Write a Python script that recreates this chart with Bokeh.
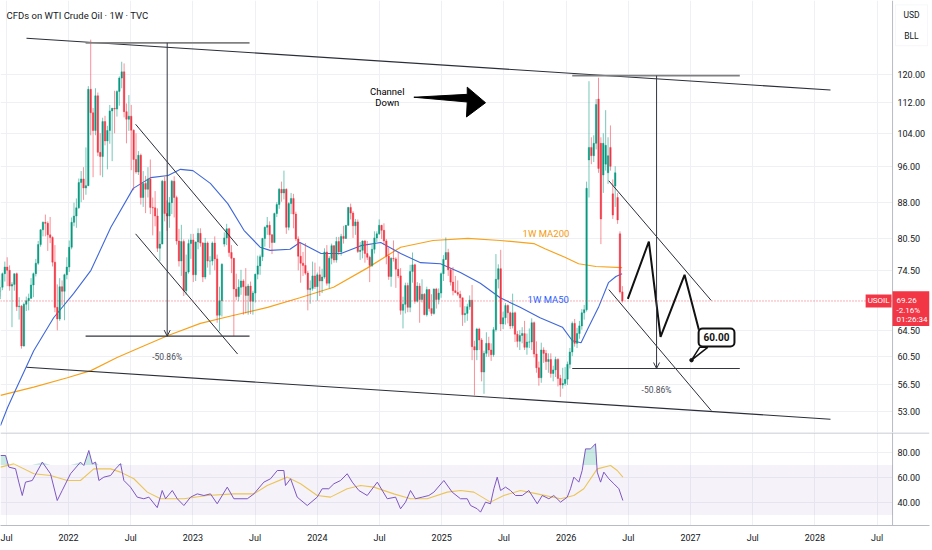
import numpy as np
import pandas as pd
from bokeh.plotting import figure
from bokeh.layouts import column
from bokeh.models import (Range1d, FixedTicker, PrintfTickFormatter, Label, Arrow,
                          OpenHead, BoxAnnotation, Span, ColumnDataSource)
from bokeh.embed import file_html
from bokeh.resources import INLINE

# ---------------- weekly candles (USOIL) ----------------
start_2021, start_2022, start_2023 = "2021-06-07", "2022-01-03", "2023-01-02"
start_2024, start_2025, start_2026 = "2024-01-01", "2025-01-06", "2026-01-05"

o21 = [69.6, 70.9, 71.6, 74.0, 75.2, 74.6, 71.8, 72.1, 74.0, 68.3, 68.4, 62.1, 68.7, 69.3, 69.7, 72.0, 74.0, 75.9, 79.4, 82.3, 83.8, 83.6, 81.3, 80.8, 76.1, 68.2, 66.3, 71.7, 70.9, 73.8]
h21 = [71.2, 72.9, 74.2, 76.2, 77.0, 75.5, 72.5, 74.0, 74.2, 69.9, 68.6, 69.0, 70.0, 70.5, 73.2, 74.2, 76.7, 80.1, 82.4, 84.0, 85.4, 84.0, 84.9, 81.0, 79.3, 72.1, 73.2, 72.8, 74.0, 77.0]
l21 = [68.8, 70.0, 71.1, 72.6, 71.8, 71.0, 65.0, 71.0, 67.6, 66.2, 61.7, 62.0, 67.6, 67.7, 69.6, 69.9, 73.5, 75.6, 79.0, 81.0, 81.0, 78.2, 79.7, 75.3, 67.4, 64.5, 66.0, 68.5, 66.1, 73.0]
c21 = [70.9, 71.6, 74.0, 75.2, 74.6, 71.8, 72.1, 74.0, 68.3, 68.4, 62.1, 68.7, 69.3, 69.7, 72.0, 74.0, 75.9, 79.4, 82.3, 83.8, 83.6, 81.3, 80.8, 76.1, 68.2, 66.3, 71.7, 70.9, 73.8, 75.2]

o22 = [75.2, 78.9, 83.8, 85.1, 86.8, 92.3, 93.1, 91.1, 91.6, 115.7, 109.3, 104.7, 113.9, 99.3, 98.3, 107.0, 102.1, 104.7, 109.8, 110.5, 110.3, 115.1, 118.9, 120.7, 109.6, 107.6, 108.4, 104.8, 97.6, 94.7, 98.6, 89.0, 92.1, 90.8, 93.1, 86.9, 86.8, 85.1, 78.7, 79.5, 92.6, 85.6, 85.1, 87.9, 92.6, 89.0, 80.1, 76.3, 80.0, 71.0, 74.3, 79.6]
h22 = [80.2, 84.8, 87.9, 88.8, 93.2, 94.9, 95.8, 100.5, 116.6, 130.5, 110.6, 116.0, 114.8, 104.0, 108.0, 108.5, 105.9, 111.4, 110.6, 115.3, 115.4, 119.4, 123.7, 123.2, 111.8, 114.1, 111.4, 105.0, 104.0, 99.6, 99.0, 94.9, 93.8, 95.8, 97.6, 89.0, 90.4, 86.7, 82.0, 92.9, 93.6, 88.4, 89.1, 92.9, 93.7, 89.4, 82.5, 83.3, 80.4, 77.5, 80.4, 81.5]
l22 = [74.3, 78.5, 83.0, 82.7, 86.6, 88.0, 88.5, 89.6, 91.5, 103.5, 93.5, 103.5, 98.4, 93.9, 93.5, 101.0, 95.3, 101.4, 97.2, 104.0, 108.3, 111.2, 116.0, 108.1, 101.5, 104.6, 95.1, 90.6, 94.3, 94.0, 87.5, 87.0, 85.7, 89.0, 85.5, 81.2, 83.0, 78.0, 76.3, 79.5, 84.0, 82.1, 82.7, 85.5, 84.8, 79.4, 75.3, 73.6, 70.1, 70.3, 74.0, 76.7]
c22 = [78.9, 83.8, 85.1, 86.8, 92.3, 93.1, 91.1, 91.6, 115.7, 109.3, 104.7, 113.9, 99.3, 98.3, 107.0, 102.1, 104.7, 109.8, 110.5, 110.3, 115.1, 118.9, 120.7, 109.6, 107.6, 108.4, 104.8, 97.6, 94.7, 98.6, 89.0, 92.1, 90.8, 93.1, 86.9, 86.8, 85.1, 78.7, 79.5, 92.6, 85.6, 85.1, 87.9, 92.6, 89.0, 80.1, 76.3, 80.0, 71.0, 74.3, 79.6, 80.3]

o23 = [80.3, 73.8, 79.9, 81.6, 79.7, 73.4, 79.7, 76.3, 76.3, 79.7, 76.7, 66.9, 69.3, 79.5, 80.7, 82.5, 77.9, 76.8, 71.3, 70.0, 71.6, 72.7, 71.7, 70.2, 71.8, 69.2, 70.6, 73.9, 75.4, 77.1, 80.6, 82.8, 83.2, 81.3, 79.8, 85.6, 87.5, 90.8, 90.0, 90.8, 82.8, 87.7, 88.8, 85.5, 80.5, 77.2, 75.9, 75.5, 74.1, 71.2, 71.4, 73.6]
h23 = [81.5, 80.0, 82.6, 82.6, 79.9, 80.7, 80.0, 77.2, 80.0, 81.0, 77.5, 71.7, 75.9, 81.8, 83.5, 82.7, 79.3, 76.9, 74.0, 73.0, 74.7, 73.0, 75.0, 72.2, 72.6, 71.0, 74.0, 77.3, 77.5, 80.7, 83.0, 84.9, 84.0, 81.5, 85.8, 88.0, 91.1, 92.5, 95.0, 91.0, 88.0, 90.0, 89.8, 86.0, 81.0, 79.7, 78.0, 79.7, 74.5, 72.8, 76.2, 76.0]
l23 = [72.5, 72.7, 78.5, 79.0, 72.5, 73.0, 75.1, 73.8, 75.5, 74.6, 65.7, 64.4, 66.7, 79.0, 79.3, 77.1, 74.1, 63.6, 69.4, 69.2, 70.3, 67.0, 67.2, 67.0, 67.1, 67.0, 69.0, 73.0, 73.8, 76.3, 79.0, 81.3, 78.7, 77.6, 79.8, 84.9, 86.6, 88.1, 88.6, 81.5, 82.2, 85.5, 82.6, 80.1, 74.6, 72.4, 73.6, 73.8, 67.7, 68.8, 71.0, 71.3]
c23 = [73.8, 79.9, 81.6, 79.7, 73.4, 79.7, 76.3, 76.3, 79.7, 76.7, 66.9, 69.3, 75.7, 80.7, 82.5, 77.9, 76.8, 71.3, 70.0, 71.6, 72.7, 71.7, 70.2, 71.8, 69.2, 70.6, 73.9, 75.4, 77.1, 80.6, 82.8, 83.2, 81.3, 79.8, 85.6, 87.5, 90.8, 90.0, 90.8, 82.8, 87.7, 88.8, 85.5, 80.5, 77.2, 75.9, 75.5, 74.1, 71.2, 71.4, 73.6, 71.7]

o24 = [71.7, 73.8, 72.7, 73.4, 78.0, 72.3, 76.8, 79.2, 76.5, 80.0, 78.0, 81.0, 80.6, 83.2, 86.9, 85.7, 83.1, 83.9, 78.1, 78.3, 80.1, 77.7, 77.0, 75.5, 78.5, 80.7, 81.5, 83.2, 82.2, 80.1, 77.2, 73.5, 76.8, 76.7, 74.8, 73.6, 67.7, 68.7, 71.9, 68.2, 74.4, 75.6, 69.2, 71.8, 69.5, 70.4, 67.0, 71.2, 68.0, 67.2, 71.3, 69.5, 70.6]
h24 = [74.2, 75.3, 74.9, 78.7, 79.3, 77.2, 79.6, 79.3, 80.9, 80.9, 81.5, 83.1, 83.2, 87.0, 87.7, 86.1, 84.5, 84.4, 79.9, 80.2, 80.3, 80.1, 77.3, 79.4, 82.0, 82.0, 84.4, 83.3, 83.6, 80.5, 78.8, 77.0, 80.2, 77.0, 78.0, 75.0, 70.0, 72.4, 72.4, 75.6, 77.9, 75.8, 72.5, 72.3, 73.0, 70.6, 71.7, 71.3, 70.4, 71.4, 71.5, 71.4, 74.2]
l24 = [69.3, 70.1, 70.6, 73.1, 71.9, 71.4, 75.7, 76.0, 76.0, 77.4, 77.3, 79.6, 80.5, 83.1, 84.4, 80.7, 81.3, 77.8, 76.5, 76.8, 76.0, 76.5, 72.5, 75.2, 77.7, 79.9, 81.3, 80.5, 79.4, 75.7, 72.9, 71.7, 76.2, 71.5, 73.2, 67.0, 64.8, 67.2, 67.4, 67.4, 72.4, 68.8, 69.0, 65.7, 69.0, 66.9, 66.7, 67.5, 66.8, 67.0, 68.0, 68.7, 69.8]
c24 = [73.8, 72.7, 73.4, 78.0, 72.3, 76.8, 79.2, 76.5, 80.0, 78.0, 81.0, 80.6, 83.2, 86.9, 85.7, 83.1, 83.9, 78.1, 78.3, 80.1, 77.7, 77.0, 75.5, 78.5, 80.7, 81.5, 83.2, 82.2, 80.1, 77.2, 73.5, 76.8, 76.7, 74.8, 73.6, 67.7, 68.7, 71.9, 68.2, 74.4, 75.6, 69.2, 71.8, 69.5, 70.4, 67.0, 71.2, 68.0, 67.2, 71.3, 69.5, 70.6, 74.0]

o25 = [74.0, 76.6, 77.9, 74.7, 72.5, 71.0, 70.7, 70.4, 69.8, 67.0, 67.2, 68.3, 69.4, 62.0, 61.5, 64.7, 63.0, 58.3, 61.0, 62.5, 61.5, 60.8, 64.6, 73.0, 74.9, 65.5, 66.5, 68.5, 67.3, 65.2, 67.3, 63.9, 62.8, 63.7, 64.0, 61.9, 62.7, 62.7, 65.7, 60.9, 58.9, 57.5, 61.5, 61.0, 59.8, 60.1, 58.1, 58.6, 60.1, 57.4, 56.5, 56.7]
h25 = [77.4, 80.8, 78.6, 75.0, 75.2, 73.6, 72.8, 71.0, 69.8, 68.4, 68.8, 70.2, 72.0, 62.9, 64.9, 64.9, 63.3, 61.4, 64.2, 63.5, 62.5, 65.0, 77.6, 75.7, 78.4, 67.5, 68.9, 68.7, 67.5, 70.5, 67.5, 64.4, 64.5, 65.0, 66.0, 64.0, 64.8, 66.4, 65.9, 62.8, 59.8, 62.6, 61.9, 61.5, 61.0, 61.0, 59.2, 60.5, 60.3, 57.9, 58.9, 59.0]
l25 = [72.7, 76.5, 73.6, 71.9, 70.2, 70.6, 70.1, 68.2, 65.2, 65.7, 66.0, 67.8, 60.0, 55.1, 60.0, 61.5, 57.0, 55.3, 60.5, 60.5, 59.9, 60.5, 64.3, 71.4, 64.4, 64.7, 65.4, 65.6, 64.7, 64.8, 62.7, 61.9, 61.5, 62.5, 61.5, 60.8, 61.8, 61.5, 60.4, 58.2, 56.4, 56.8, 59.6, 58.6, 58.2, 57.5, 57.0, 57.6, 56.3, 54.9, 56.0, 56.4]
c25 = [76.6, 77.9, 74.7, 72.5, 71.0, 70.7, 70.4, 69.8, 67.0, 67.2, 68.3, 69.4, 62.0, 61.5, 64.7, 63.0, 58.3, 61.0, 62.5, 61.5, 60.8, 64.6, 73.0, 74.9, 65.5, 66.5, 68.5, 67.3, 65.2, 67.3, 63.9, 62.8, 63.7, 64.0, 61.9, 62.7, 62.7, 65.7, 60.9, 58.9, 57.5, 61.5, 61.0, 59.8, 60.1, 58.1, 58.6, 60.1, 57.4, 56.5, 56.7, 57.3]

o26 = [57.3, 59.4, 61.2, 65.6, 62.5, 64.0, 65.2, 67.3, 67.8, 97.5, 100.5, 98.5, 101.5, 113.0, 101.5, 94.0, 96.5, 94.5, 100.5, 89.8, 91.5, 89.0, 81.5, 70.8]
h26 = [59.8, 61.8, 65.9, 66.3, 64.9, 66.0, 67.9, 68.6, 92.5, 118.0, 103.0, 103.5, 113.0, 119.0, 103.0, 104.0, 110.0, 103.0, 106.0, 93.0, 96.0, 90.0, 82.0, 71.8]
l26 = [56.5, 58.8, 60.6, 62.0, 61.8, 63.2, 64.6, 66.2, 67.5, 89.0, 96.5, 97.0, 100.0, 94.5, 79.5, 90.0, 95.0, 92.0, 95.0, 84.5, 87.0, 83.5, 70.5, 69.0]
c26 = [59.4, 61.2, 65.6, 62.5, 64.0, 65.2, 67.3, 67.8, 91.0, 100.5, 98.5, 101.5, 111.5, 95.5, 84.5, 101.5, 101.0, 98.5, 96.0, 85.3, 94.5, 84.3, 70.79, 69.26]

# ---------------- moving averages (decimal year, price) ----------------
ma50_t = [2021.453, 2021.51, 2021.56, 2021.72, 2021.88, 2022.04, 2022.18, 2022.34, 2022.52, 2022.66, 2022.80, 2022.90, 2023.00, 2023.14, 2023.28, 2023.41, 2023.54, 2023.62, 2023.78, 2023.86, 2024.03, 2024.19, 2024.35, 2024.51, 2024.67, 2024.83, 2024.99, 2025.15, 2025.31, 2025.47, 2025.63, 2025.79, 2025.97, 2026.05, 2026.12, 2026.18, 2026.26, 2026.34, 2026.40, 2026.45]
ma50_v = [51.2, 53.5, 55.3, 61.4, 66.5, 70.5, 74.6, 82.8, 91.0, 93.4, 93.9, 95.3, 95.0, 92.1, 87.7, 82.2, 78.9, 78.3, 78.5, 79.8, 77.7, 77.7, 79.2, 79.8, 77.7, 76.0, 75.8, 74.2, 72.3, 69.8, 68.2, 66.5, 65.0, 62.9, 62.6, 65.0, 68.2, 72.4, 73.5, 74.0]
ma200_t = [2021.453, 2021.72, 2021.99, 2022.18, 2022.39, 2022.58, 2022.80, 2023.06, 2023.33, 2023.60, 2023.86, 2024.13, 2024.40, 2024.67, 2024.93, 2025.21, 2025.47, 2025.74, 2025.83, 2025.99, 2026.10, 2026.24, 2026.45]
ma200_v = [55.1, 56.2, 57.5, 58.5, 60.4, 61.9, 63.7, 65.6, 66.9, 68.2, 69.8, 71.6, 75.0, 78.9, 80.2, 80.6, 80.2, 79.6, 78.6, 77.0, 75.8, 75.3, 75.1]

# ---------------- RSI pane ----------------
rsi_t = [2021.453, 2021.494, 2021.520, 2021.574, 2021.600, 2021.628, 2021.654, 2021.708, 2021.789, 2021.855, 2021.909, 2021.949, 2022.016, 2022.096, 2022.123, 2022.163, 2022.191, 2022.217, 2022.244, 2022.284, 2022.338, 2022.378, 2022.418, 2022.445, 2022.498, 2022.552, 2022.605, 2022.646, 2022.713, 2022.753, 2022.780, 2022.834, 2022.874, 2022.927, 2022.981, 2023.035, 2023.088, 2023.141, 2023.195, 2023.276, 2023.329, 2023.437, 2023.490, 2023.570, 2023.624, 2023.678, 2023.731, 2023.744, 2023.785, 2023.838, 2023.919, 2023.999, 2024.039, 2024.092, 2024.133, 2024.187, 2024.240, 2024.281, 2024.334, 2024.401, 2024.482, 2024.562, 2024.629, 2024.669, 2024.709, 2024.749, 2024.789, 2024.843, 2024.896, 2024.937, 2025.017, 2025.084, 2025.151, 2025.205, 2025.232, 2025.285, 2025.312, 2025.352, 2025.392, 2025.419, 2025.446, 2025.473, 2025.513, 2025.553, 2025.593, 2025.647, 2025.700, 2025.768, 2025.808, 2025.861, 2025.901, 2025.955, 2026.009, 2026.035, 2026.062, 2026.102, 2026.129, 2026.156, 2026.196, 2026.210, 2026.236, 2026.250, 2026.277, 2026.303, 2026.343, 2026.384, 2026.424, 2026.456]
rsi_v = [77.6, 77.6, 68.3, 67.0, 56.3, 45.6, 56.3, 57.6, 72.3, 63.0, 41.6, 49.6, 63.0, 72.3, 69.6, 81.6, 70.9, 72.3, 57.6, 60.3, 61.6, 66.9, 71.1, 57.6, 52.3, 44.3, 43.0, 44.3, 35.9, 49.6, 43.0, 49.6, 43.0, 37.6, 44.3, 46.9, 45.6, 46.9, 39.0, 52.3, 43.0, 43.0, 46.9, 56.3, 59.0, 65.6, 65.6, 53.6, 59.0, 44.3, 37.6, 44.3, 51.0, 51.0, 55.0, 57.6, 63.0, 56.3, 49.6, 45.6, 56.3, 43.0, 44.3, 35.0, 40.3, 49.6, 43.0, 44.3, 45.6, 48.3, 57.6, 48.3, 43.0, 43.0, 37.6, 35.0, 32.3, 40.3, 39.0, 51.0, 60.3, 49.6, 52.3, 49.6, 45.6, 45.6, 49.6, 39.0, 45.6, 43.0, 45.6, 40.3, 44.3, 51.0, 60.3, 56.3, 65.6, 82.9, 82.9, 84.3, 87.0, 64.3, 56.3, 64.3, 59.0, 55.0, 51.0, 41.6]
rsima_t = [2021.453, 2021.560, 2021.721, 2021.855, 2021.990, 2022.096, 2022.203, 2022.338, 2022.418, 2022.525, 2022.633, 2022.740, 2022.927, 2023.115, 2023.329, 2023.490, 2023.597, 2023.758, 2023.865, 2023.999, 2024.106, 2024.240, 2024.347, 2024.454, 2024.615, 2024.749, 2024.883, 2025.044, 2025.151, 2025.258, 2025.392, 2025.499, 2025.633, 2025.768, 2025.955, 2026.062, 2026.142, 2026.250, 2026.357, 2026.411, 2026.456]
rsima_v = [68.3, 70.9, 63.0, 61.6, 57.6, 57.6, 66.9, 66.9, 64.3, 59.0, 48.3, 43.0, 43.0, 45.6, 46.9, 46.9, 53.6, 60.3, 55.0, 45.6, 44.3, 51.0, 53.6, 52.3, 46.9, 43.0, 43.0, 48.3, 49.6, 48.3, 40.3, 45.6, 49.6, 46.9, 43.0, 45.6, 51.0, 66.9, 69.6, 65.6, 60.3]

# ---------------- axes ----------------
price_ticks = [53, 56.5, 60.5, 64.5, 74.5, 80.5, 88, 96, 104, 112, 120]
rsi_ticks = [40, 60, 80]
time_ticks = [2021.5, 2022, 2022.5, 2023, 2023.5, 2024, 2024.5, 2025, 2025.5, 2026, 2026.5, 2027, 2027.5, 2028, 2028.5]
time_labels = ["Jul", "2022", "Jul", "2023", "Jul", "2024", "Jul", "2025", "Jul", "2026", "Jul", "2027", "Jul", "2028", "Jul"]
last_price = 69.26
price_tag_lines = ["69.26", "-2.16%", "01:26:34"]
price_tag_levels = [69.26, 67.7, 66.2]          # price level of each tag line
price_tag_box = (70.9, 65.2)                   # top / bottom of the red tag
unit_labels = ["USD", "BLL"]
unit_levels = [138.4, 131.8]

# time span of the chart, where the price scale column starts, and the frame end
t_first, t_scale, t_last = 2021.453, 2028.624, 2028.921

# ---------------- drawings (decimal year, price) ----------------
chan_top_t, chan_top_p = [2021.662, 2028.125], [130.96, 115.5]
chan_bot_t, chan_bot_p = [2021.662, 2028.125], [58.98, 52.0]
lflag_top_t, lflag_top_p = [2022.539, 2023.359], [106.3, 79.2]
lflag_bot_t, lflag_bot_p = [2022.539, 2023.359], [81.5, 60.9]
rflag_top_t, rflag_top_p = [2026.343, 2027.166], [92.7, 69.35]
rflag_bot_t, rflag_bot_p = [2026.343, 2027.166], [71.2, 53.1]
lmeas_t = [2022.137, 2022.793, 2023.455]      # left, mid, right
lmeas_p = [129.5, 63.6, 60.4]                 # top, bottom, label
rmeas_t = [2026.049, 2026.727, 2027.396]
rmeas_p = [119.6, 58.8, 55.8]
zigzag_t = [2026.496, 2026.665, 2026.759, 2026.952, 2027.067]
zigzag_p = [69.6, 80.0, 63.5, 73.8, 64.6]
target_box = (2027.209, 63.4)
target_tip = (2027.008, 60.0)
tail_t, tail_p = [2027.073, 2027.008, 2027.138], [61.9, 60.0, 61.9]
big_arrow_t = [2024.776, 2025.205, 2025.205, 2025.352, 2025.199, 2025.205]
big_arrow_p = [113.5, 114.3, 116.3, 112.0, 108.2, 112.2]

UP, DOWN = "#089981", "#f23645"
INK = "#131722"
GRID = "#eef0f4"
AXLINE = "#b8bbc3"
FONT = "Roboto"
FRAME_W = 929


def dec_year(dates):
    d = pd.DatetimeIndex(dates)
    jan1 = pd.to_datetime([f"{y}-01-01" for y in d.year])
    ylen = np.where(d.is_leap_year, 366.0, 365.0)
    return np.asarray(d.year, dtype=float) + np.asarray((d - jan1).days, dtype=float) / ylen


blocks = [(start_2021, o21, h21, l21, c21), (start_2022, o22, h22, l22, c22),
          (start_2023, o23, h23, l23, c23), (start_2024, o24, h24, l24, c24),
          (start_2025, o25, h25, l25, c25), (start_2026, o26, h26, l26, c26)]
T, O, H, L, C = [], [], [], [], []
for st, o, h, l, c in blocks:
    n = min(len(o), len(h), len(l), len(c))
    T.extend(dec_year(pd.date_range(st, periods=n, freq="W-MON")))
    O.extend(o[:n]); H.extend(h[:n]); L.extend(l[:n]); C.extend(c[:n])
T, O, H, L, C = map(np.asarray, (T, O, H, L, C))
colors = np.where(C >= O, UP, DOWN)
src = ColumnDataSource(dict(t=T, top=np.maximum(O, C), bottom=np.minimum(O, C),
                            high=H, low=L, color=colors))

x_range = Range1d(t_first, t_last)
price_range = Range1d(50.35, 143.5)


def style_axis(ax):
    ax.major_tick_line_color = None
    ax.minor_tick_line_color = None
    ax.major_tick_out = 0
    ax.major_tick_in = 0
    ax.minor_tick_out = 0
    ax.minor_tick_in = 0
    ax.major_label_text_font = FONT
    ax.major_label_text_font_size = "9px"
    ax.major_label_text_color = INK


def price_scale_column(fig):
    # white price-scale column with its separator line (labels are drawn over it)
    fig.add_layout(BoxAnnotation(left=t_scale, fill_color="white", fill_alpha=1,
                                 line_alpha=0, level="underlay"))
    fig.add_layout(Span(location=t_scale, dimension="height", line_color=AXLINE,
                        line_width=1))


# ================= price pane =================
p = figure(frame_width=FRAME_W, frame_height=432, x_range=x_range, y_range=price_range,
           y_axis_type="log", y_axis_location="right", output_backend="svg",
           toolbar_location=None, title=None, min_border_left=0, min_border_top=0,
           min_border_bottom=0, min_border_right=3)
p.background_fill_color = "white"
p.border_fill_color = "white"
p.outline_line_color = None
p.xaxis.visible = False
p.xaxis.ticker = FixedTicker(ticks=time_ticks)
p.xgrid.ticker = FixedTicker(ticks=time_ticks)
p.yaxis.ticker = FixedTicker(ticks=price_ticks)
p.ygrid.ticker = FixedTicker(ticks=price_ticks)
p.yaxis.formatter = PrintfTickFormatter(format="%.2f")
style_axis(p.yaxis[0])
p.yaxis.axis_line_color = None
p.yaxis.major_label_standoff = -32
p.grid.grid_line_color = GRID
price_scale_column(p)

# moving averages
p.line(ma200_t, ma200_v, line_color="#f7a21b", line_width=1.2)
p.line(ma50_t, ma50_v, line_color="#3f67d9", line_width=1.1)

# candles
p.segment(x0="t", y0="low", x1="t", y1="high", line_color="color", line_alpha=0.55,
          line_width=1, source=src)
p.vbar(x="t", width=0.0118, top="top", bottom="bottom", fill_color="color",
       line_color="color", line_width=0.4, source=src)

# current price line (chart area only)
p.line([t_first, t_scale], [last_price, last_price], line_color=DOWN,
       line_dash="1 2", line_width=1, line_alpha=0.8)

# channel lines
p.line(chan_top_t, chan_top_p, line_color="#2a2e39", line_width=1.1)
p.line(chan_bot_t, chan_bot_p, line_color="#2a2e39", line_width=1.1)
for xs_, ys_ in [(lflag_top_t, lflag_top_p), (lflag_bot_t, lflag_bot_p),
                 (rflag_top_t, rflag_top_p), (rflag_bot_t, rflag_bot_p)]:
    p.line(xs_, ys_, line_color="#2a2e39", line_width=1)

# measurement tools
for mt, mp in [(lmeas_t, lmeas_p), (rmeas_t, rmeas_p)]:
    p.line([mt[0], mt[2]], [mp[0], mp[0]], line_color="#808080", line_width=1.8)
    p.line([mt[0], mt[2]], [mp[1], mp[1]], line_color="#333640", line_width=1.2)
    p.add_layout(Arrow(end=OpenHead(size=6, line_color="#333640", line_width=1),
                       x_start=mt[1], y_start=mp[0], x_end=mt[1], y_end=mp[1],
                       line_color="#333640", line_width=1))
    p.add_layout(Label(x=mt[1], y=mp[2], text="-50.86%", text_align="center",
                       text_baseline="middle", text_font=FONT, text_font_size="8.5px",
                       text_color="#4a4e59"))

# projection zigzag and target callout
p.line(zigzag_t, zigzag_p, line_color="#111111", line_width=2)
p.patch(tail_t, tail_p, fill_color="white", line_color="#111111", line_width=1.5)
p.scatter([target_tip[0]], [target_tip[1]], size=3.5, color="#111111")
p.add_layout(Label(x=target_box[0], y=target_box[1], text="60.00", text_align="center",
                   text_baseline="middle", text_font=FONT, text_font_size="10px",
                   text_font_style="bold", text_color="#111111",
                   background_fill_color="white", border_line_color="#111111",
                   border_line_width=2, border_radius=4, padding=5))

# "Channel Down" arrow
p.patch(big_arrow_t, big_arrow_p, fill_color="#000000", line_color="#000000", line_width=1)
p.add_layout(Label(x=2024.562, y=115.2, text="Channel", text_align="center",
                   text_baseline="middle", text_font=FONT, text_font_size="9.5px",
                   text_color="#000000"))
p.add_layout(Label(x=2024.562, y=112.0, text="Down", text_align="center",
                   text_baseline="middle", text_font=FONT, text_font_size="9.5px",
                   text_color="#000000"))

# MA labels
p.add_layout(Label(x=2025.650, y=81.6, text="1W MA200", text_align="left",
                   text_baseline="middle", text_font=FONT, text_font_size="9.5px",
                   text_color="#f59a0c"))
p.add_layout(Label(x=2025.690, y=69.5, text="1W MA50", text_align="left",
                   text_baseline="middle", text_font=FONT, text_font_size="9.5px",
                   text_color="#2962ff"))

# legend title
p.add_layout(Label(x=2021.502, y=138.4, text="CFDs on WTI Crude Oil · 1W · TVC",
                   text_align="left", text_baseline="middle", text_font=FONT,
                   text_font_size="9.5px", text_color=INK))

# symbol tag at the right edge of the chart area
p.add_layout(Label(x=t_scale, y=last_price, x_offset=-1, text="USOIL",
               text_align="right", text_baseline="middle", text_font=FONT,
               text_font_size="8px", text_color="white",
               background_fill_color=DOWN, padding=2))

# unit box and last-price tag inside the price-scale column
p.add_layout(BoxAnnotation(left=2028.648, right=2028.905, top=142.0, bottom=128.6,
                           fill_color="white", fill_alpha=1, line_color="#e0e3eb",
                           line_width=1))
for txt, lev in zip(unit_labels, unit_levels):
    p.add_layout(Label(x=2028.776, y=lev, text=txt, text_align="center",
                       text_baseline="middle", text_font=FONT, text_font_size="8.5px",
                       text_color=INK))
p.add_layout(BoxAnnotation(left=t_scale, right=t_last, top=price_tag_box[0],
                           bottom=price_tag_box[1], fill_color=DOWN, fill_alpha=1,
                           line_alpha=0))
for txt, lev in zip(price_tag_lines, price_tag_levels):
    p.add_layout(Label(x=t_scale, x_offset=4, y=lev, text=txt, text_align="left",
                       text_baseline="middle", text_font=FONT, text_font_size="8px",
                       text_color="white"))

# ================= RSI pane =================
r = figure(frame_width=FRAME_W, frame_height=93, x_range=x_range, y_range=Range1d(21.6, 96),
           y_axis_location="right", output_backend="svg", toolbar_location=None, title=None,
           min_border_left=0, min_border_top=0, min_border_bottom=25, min_border_right=3)
r.background_fill_color = "white"
r.border_fill_color = "white"
r.outline_line_color = None
r.xaxis.ticker = FixedTicker(ticks=time_ticks)
r.xaxis.major_label_overrides = {t: s for t, s in zip(time_ticks, time_labels)}
r.xgrid.ticker = FixedTicker(ticks=time_ticks)
r.yaxis.ticker = FixedTicker(ticks=rsi_ticks)
r.ygrid.ticker = FixedTicker(ticks=rsi_ticks)
r.yaxis.formatter = PrintfTickFormatter(format="%.2f")
style_axis(r.xaxis[0])
style_axis(r.yaxis[0])
r.xaxis.axis_line_color = AXLINE
r.yaxis.axis_line_color = None
r.xaxis.major_label_standoff = 7
r.yaxis.major_label_standoff = -32
r.grid.grid_line_color = GRID
price_scale_column(r)
# pane separator along the top of the RSI pane
r.add_layout(BoxAnnotation(top=96, bottom=95.2, fill_color=AXLINE, fill_alpha=1,
                           line_alpha=0))

r.add_layout(BoxAnnotation(bottom=30, top=70, right=t_scale, fill_color="#7e57c2",
                           fill_alpha=0.08, line_alpha=0))
r.varea(x=rsi_t, y1=[70] * len(rsi_t), y2=np.maximum(np.asarray(rsi_v), 70),
        fill_color=UP, fill_alpha=0.22)
r.line(rsima_t, rsima_v, line_color="#f5cf4e", line_width=1.1)
r.line(rsi_t, rsi_v, line_color="#7e57c2", line_width=1)

layout = column(p, r, spacing=0)
open("out.html", "w").write(file_html(layout, INLINE, title="USOIL"))
